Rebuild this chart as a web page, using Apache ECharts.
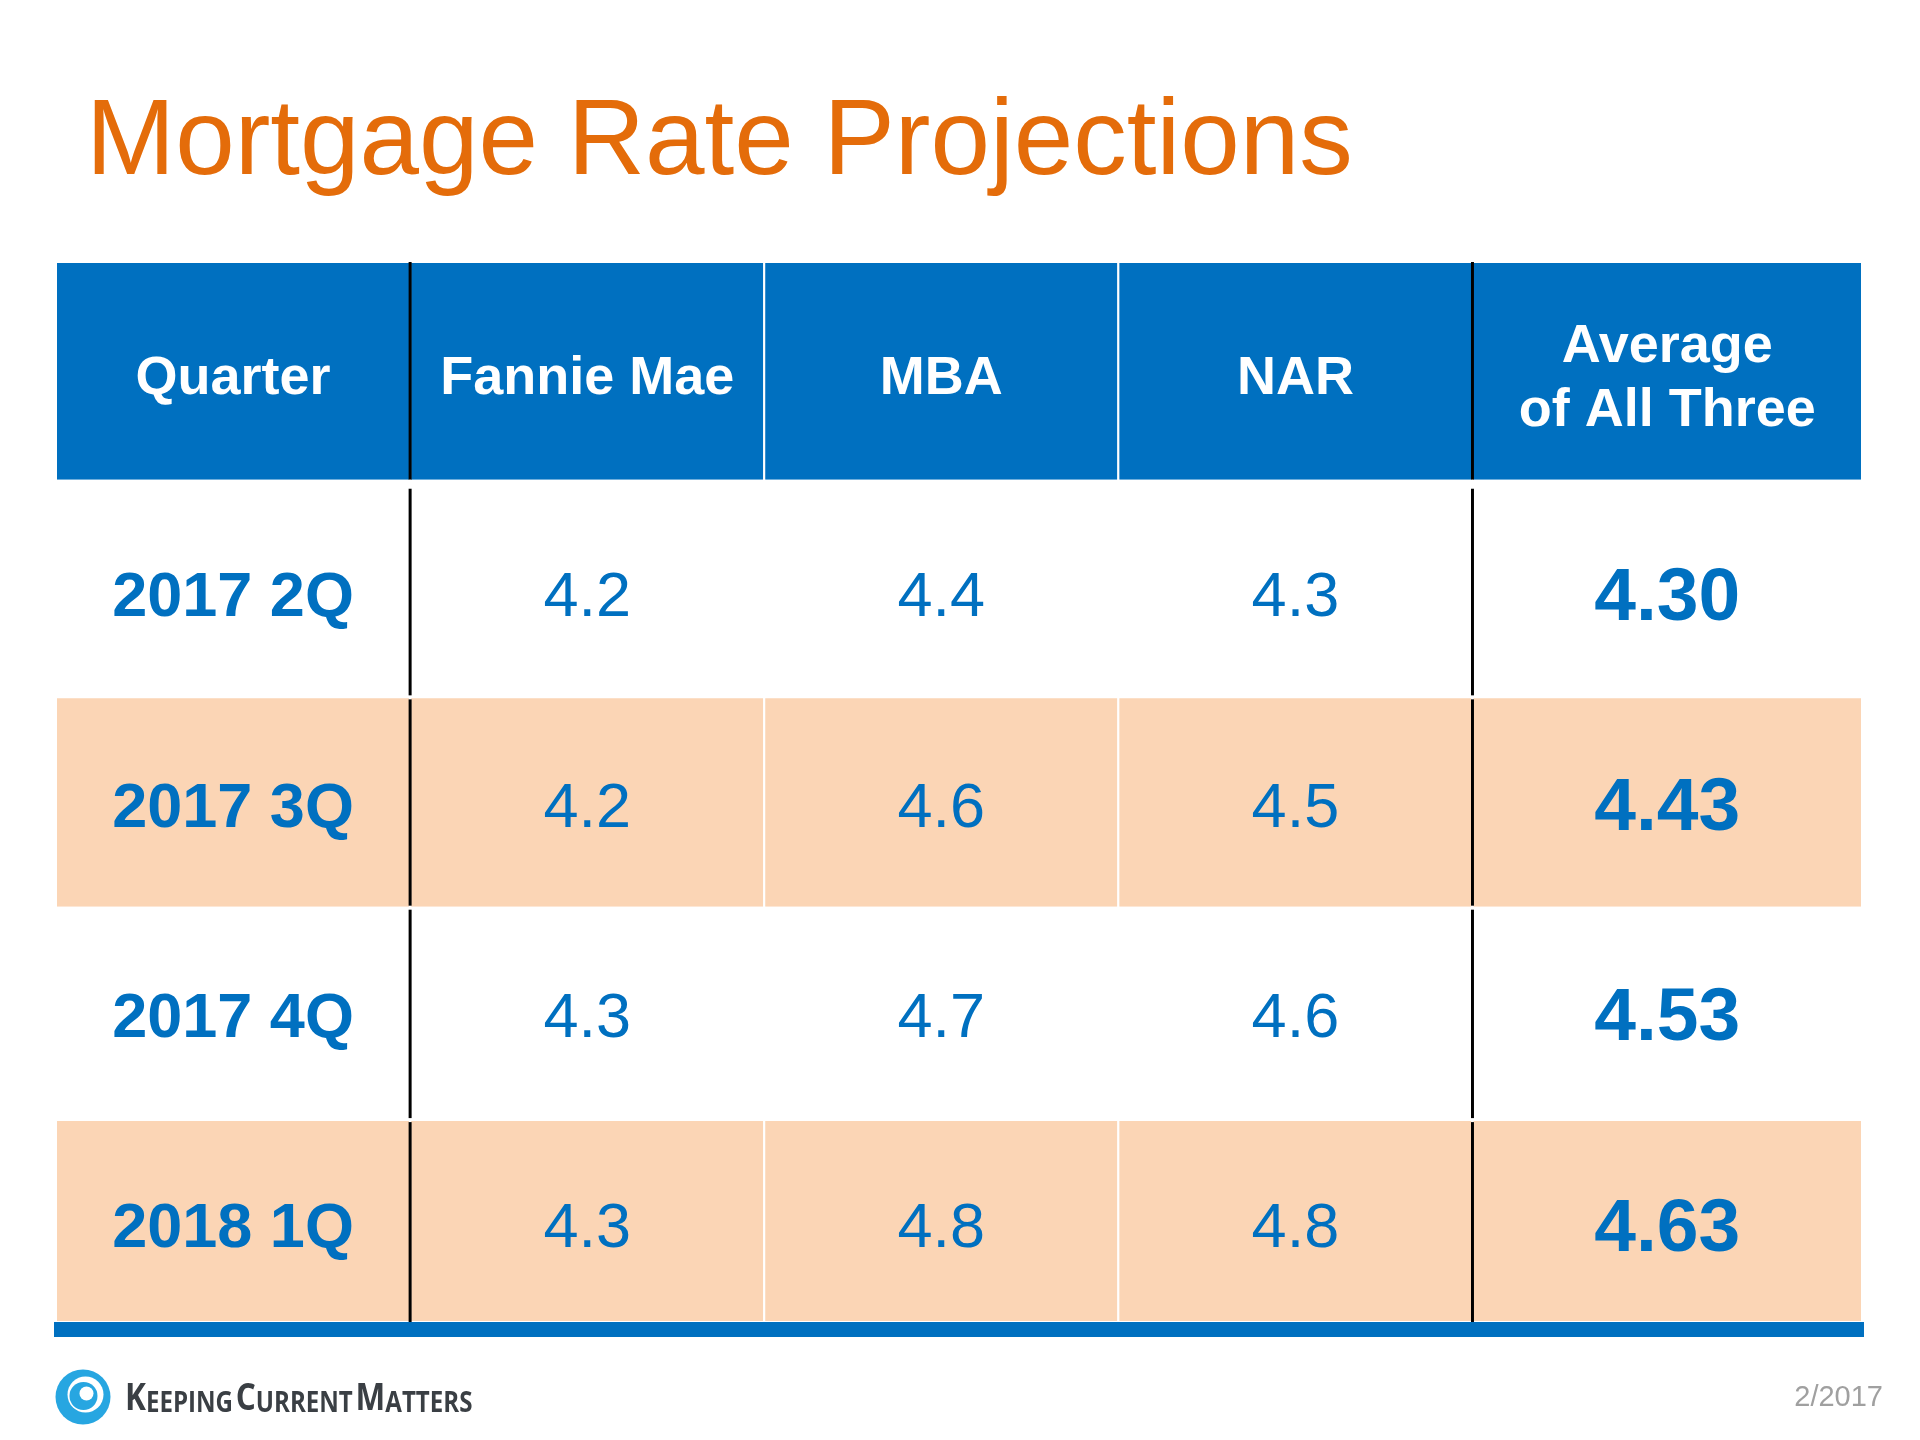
<!DOCTYPE html>
<html>
<head>
<meta charset="utf-8">
<script src="https://cdn.jsdelivr.net/npm/echarts@6/dist/echarts.min.js"></script>
<style>
  html, body { margin: 0; padding: 0; background: #ffffff; }
  #chart { width: 1920px; height: 1440px; }
</style>
</head>
<body>
<div id="chart"></div>
<script>
// ---- data ----
const headers = ['Quarter', 'Fannie Mae', 'MBA', 'NAR', 'Average\nof All Three'];
const quarters = ['2017 2Q', '2017 3Q', '2017 4Q', '2018 1Q'];
const fannieMae = [4.2, 4.2, 4.3, 4.3];
const mba = [4.4, 4.6, 4.7, 4.8];
const nar = [4.3, 4.5, 4.6, 4.8];
const average = [4.30, 4.43, 4.53, 4.63];
const titleText = 'Mortgage Rate Projections';
const dateText = '2/2017';

// ---- layout (axis units) ----
const COL_EDGES = [0, 1, 2, 3, 4, 5.1];
const ROW_EDGES = [0, 1.04, 2.07, 3.07, 4.08, 5.04];
const HEADER_H = 1.04;
const Y_MAX = ROW_EDGES[ROW_EDGES.length - 1];

// build cell table
const cells = [];
headers.forEach((h, c) => cells.push([c, 0, h, 'header']));
quarters.forEach((q, i) => {
  const r = i + 1;
  cells.push([0, r, q, 'quarter']);
  cells.push([1, r, fannieMae[i].toFixed(1), 'value']);
  cells.push([2, r, mba[i].toFixed(1), 'value']);
  cells.push([3, r, nar[i].toFixed(1), 'value']);
  cells.push([4, r, average[i].toFixed(2), 'avg']);
});

const FONT = '"Liberation Sans", Arial, Helvetica, sans-serif';
const BLUE = '#0070C0';
const PEACH = '#FBD5B5';

function renderCell(params, api) {
  const c = api.value(0);
  const r = api.value(1);
  const d = cells[params.dataIndex];
  const label = d[2];
  const kind = d[3];
  const p0 = api.coord([COL_EDGES[c], ROW_EDGES[r]]);
  const p1 = api.coord([COL_EDGES[c + 1], ROW_EDGES[r + 1]]);
  const x = p0[0], y = p0[1], w = p1[0] - p0[0], h = p1[1] - p0[1];
  let fill = '#ffffff';
  if (r === 0) fill = BLUE;
  else if (r % 2 === 0) fill = PEACH;
  const children = [];
  children.push({
    type: 'rect',
    shape: { x: x, y: y, width: w, height: h },
    style: { fill: fill, stroke: '#ffffff', lineWidth: 2 }
  });
  if (c === 1 || c === 4) {
    let top = y + 2, bot = y + h - 2;
    if (r === 0) { top = y; bot = y + h; }
    if (r === 1) { top = y + 8; }
    if (r === quarters.length) { bot = y + h; }
    children.push({
      type: 'line',
      shape: { x1: x, y1: top, x2: x, y2: bot },
      style: { stroke: '#000000', lineWidth: 3 }
    });
  }
  let font, color = BLUE, ty;
  if (r === 0) {
    ty = y + h / 2 + 8;
  } else {
    // text rows sit on an even pitch
    ty = api.coord([0, HEADER_H + r - 0.5])[1] + 13;
  }
  if (kind === 'header') { font = 'bold 54px ' + FONT; color = '#ffffff'; }
  else if (kind === 'quarter') { font = 'bold 63px ' + FONT; }
  else if (kind === 'value') { font = 'normal 63px ' + FONT; }
  else { font = 'bold 75px ' + FONT; }
  children.push({
    type: 'text',
    style: {
      text: label, x: x + w / 2, y: ty,
      font: font, fill: color, lineHeight: 64,
      align: 'center', verticalAlign: 'middle'
    }
  });
  return { type: 'group', children: children };
}

function renderBar(params, api) {
  const p0 = api.coord([0, Y_MAX]);
  const p1 = api.coord([COL_EDGES[COL_EDGES.length - 1], Y_MAX]);
  return {
    type: 'rect',
    shape: { x: p0[0] - 2, y: p0[1], width: p1[0] - p0[0] + 4, height: 15 },
    style: { fill: BLUE }
  };
}

const chart = echarts.init(document.getElementById('chart'), null, { renderer: 'canvas' });
chart.setOption({
  animation: false,
  backgroundColor: '#ffffff',
  grid: { left: 56, right: 58, top: 262, bottom: 118 },
  xAxis: { type: 'value', min: 0, max: COL_EDGES[COL_EDGES.length - 1], show: false },
  yAxis: { type: 'value', min: 0, max: Y_MAX, inverse: true, show: false },
  series: [
    {
      type: 'custom',
      renderItem: renderCell,
      data: cells.map(d => [d[0], d[1]]),
      encode: { x: 0, y: 1 },
      clip: false
    },
    {
      type: 'custom',
      renderItem: renderBar,
      data: [[0, Y_MAX]],
      clip: false,
      z: 5
    }
  ],
  graphic: [
    {
      type: 'text', left: 86, top: 91,
      style: { text: titleText, font: 'normal 107px ' + FONT, fill: '#E46C0A' }
    },
    { type: 'circle', shape: { cx: 83, cy: 1397, r: 27.5 }, style: { fill: '#27A6E1' } },
    { type: 'circle', shape: { cx: 85.5, cy: 1394.5, r: 18 }, style: { fill: '#ffffff' } },
    { type: 'circle', shape: { cx: 83.5, cy: 1396, r: 14 }, style: { fill: '#27A6E1' } },
    { type: 'circle', shape: { cx: 86.5, cy: 1393.5, r: 7 }, style: { fill: '#ffffff' } },
    {
      type: 'text', x: 125, y: 1398, scaleX: 0.83,
      style: {
        text: '{b|K}{s|EEPING} {b|C}{s|URRENT} {b|M}{s|ATTERS}',
        fill: '#3A3F44',
        align: 'left', verticalAlign: 'middle',
        rich: {
          b: { fontSize: 38, fontWeight: 700, fontFamily: '"Open Sans", sans-serif', fill: '#3A3F44', verticalAlign: 'bottom', lineHeight: 40 },
          s: { fontSize: 29, fontWeight: 700, fontFamily: '"Open Sans", sans-serif', fill: '#3A3F44', verticalAlign: 'bottom', lineHeight: 40 }
        }
      }
    },
    {
      type: 'text', right: 37, top: 1383,
      style: { text: dateText, font: 'normal 29px ' + FONT, fill: '#A0A0A0' }
    }
  ]
});
</script>
</body>
</html>
